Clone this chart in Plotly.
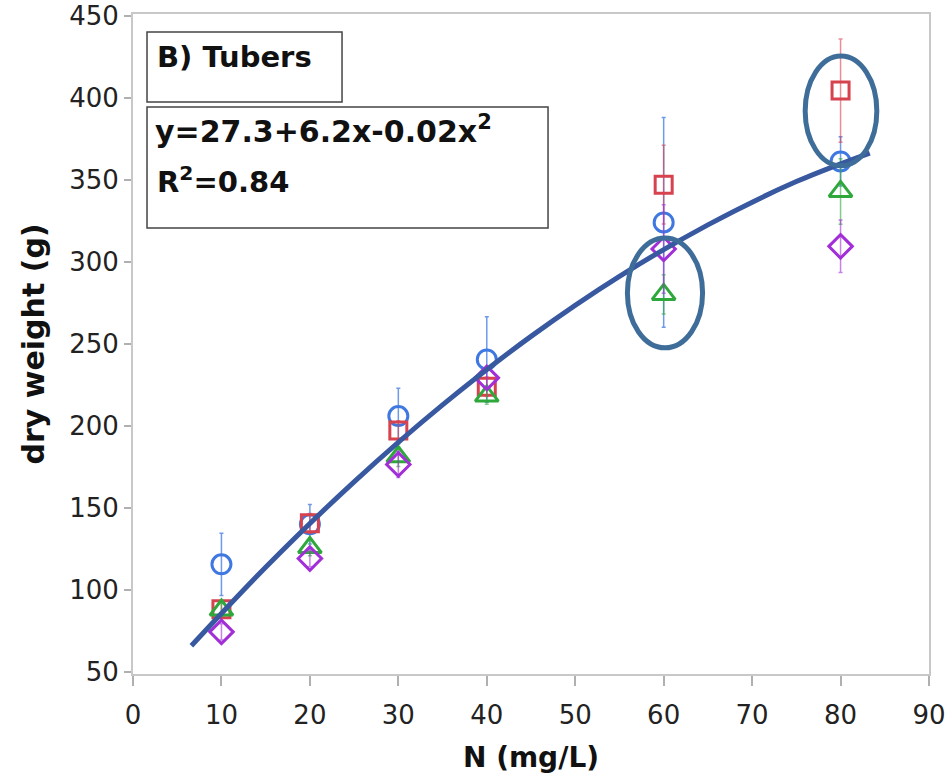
import plotly.graph_objects as go

# ---- data ----
n_levels = [10, 20, 30, 40, 60, 80]

blue_circle = [115.4, 139.8, 205.8, 240.3, 323.9, 361.1]
blue_err = [19, 12, 17, 26, 64, 15]

red_square = [88, 140.4, 197, 223.7, 346.9, 404.3]
red_err = [5, 6, 6, 6, 24, 31.5]

green_triangle = [87.5, 125.6, 181, 218, 280, 342.8]
green_err = [4, 5, 6, 5, 12, 20]

purple_diamond = [74.2, 118.9, 176.3, 229.1, 307.7, 309.3]
purple_err = [5, 5, 8, 6, 27, 16]

# fitted curve
curve_x = [6.6, 15, 25, 35, 45, 55, 65, 75, 83.3]
curve_y = [65.7, 113.6, 165.7, 212.6, 254.4, 291.0, 322.4, 348.8, 366.2]

x_ticks = [0, 10, 20, 30, 40, 50, 60, 70, 80, 90]
y_ticks = [50, 100, 150, 200, 250, 300, 350, 400, 450]

FONT = "DejaVu Sans"

series = [
    ("blue", blue_circle, blue_err, "circle-open", "#3f78e0", "rgba(63,120,224,0.75)", 19),
    ("red", red_square, red_err, "square-open", "#d7424f", "rgba(215,66,79,0.6)", 17),
    ("green", green_triangle, green_err, "triangle-up-open", "#2ea83a", "rgba(46,168,58,0.6)", 20),
    ("purple", purple_diamond, purple_err, "diamond-open", "#a22ed8", "rgba(162,46,216,0.6)", 18),
]

fig = go.Figure()
for name, ys, errs, sym, col, ecol, size in series:
    fig.add_trace(go.Scatter(
        x=n_levels, y=ys, mode="markers", name=name,
        marker=dict(symbol=sym, size=size, color=col, line=dict(width=3, color=col)),
        error_y=dict(type="data", array=errs, visible=True, color=ecol, thickness=1.5, width=2),
        showlegend=False,
    ))

fig.add_trace(go.Scatter(
    x=curve_x, y=curve_y, mode="lines", line=dict(color="#3858a0", width=5, shape="spline"),
    showlegend=False,
))

ell_col = "#3f6d99"
fig.add_shape(type="circle", xref="x", yref="y", x0=55.9, x1=64.4, y0=247.4, y1=314.4,
              line=dict(color=ell_col, width=5))
fig.add_shape(type="circle", xref="x", yref="y", x0=76.0, x1=84.1, y0=358.4, y1=425.4,
              line=dict(color=ell_col, width=5))

# text boxes
fig.add_shape(type="rect", xref="paper", yref="paper", x0=0.0176, x1=0.2626, y0=0.8667, y1=0.9727,
              line=dict(color="#444444", width=1.5), fillcolor="white", layer="above")
fig.add_shape(type="rect", xref="paper", yref="paper", x0=0.0176, x1=0.5214, y0=0.6758, y1=0.8591,
              line=dict(color="#444444", width=1.5), fillcolor="white", layer="above")

fig.add_annotation(xref="paper", yref="paper", x=0.0276, y=0.9348, xanchor="left", yanchor="middle",
                   text="<b>B) Tubers</b>", showarrow=False, font=dict(family=FONT, size=29, color="#111111"))
fig.add_annotation(xref="paper", yref="paper", x=0.0251, y=0.8250, xanchor="left", yanchor="middle",
                   text="<b>y=27.3+6.2x-0.02x<sup>2</sup></b>", showarrow=False,
                   font=dict(family=FONT, size=30, color="#111111"))
fig.add_annotation(xref="paper", yref="paper", x=0.0276, y=0.7490, xanchor="left", yanchor="middle",
                   text="<b>R<sup>2</sup>=0.84</b>", showarrow=False,
                   font=dict(family=FONT, size=29, color="#111111"))

axis_common = dict(
    showgrid=False, zeroline=False, showline=True, linecolor="#c8c8c8", linewidth=2, mirror=True,
    ticks="outside", tickcolor="#b0b0b0", tickwidth=1.5, automargin=False,
    ticklabeloverflow="allow",
    tickfont=dict(family=FONT, size=26, color="#222222"),
)

fig.update_layout(
    width=948, height=778,
    margin=dict(l=133, r=19, t=14, b=104),
    paper_bgcolor="white", plot_bgcolor="white",
    xaxis=dict(range=[0, 90], tickvals=x_ticks, ticktext=[str(v) for v in x_ticks], ticklen=10,
               ticklabelstandoff=7,
               title=dict(text="<b>N (mg/L)</b>", font=dict(family=FONT, size=28, color="#111111"), standoff=18),
               **axis_common),
    yaxis=dict(range=[48.5, 451], tickvals=y_ticks, ticktext=[str(v) for v in y_ticks], ticklen=7,
               title=dict(text="<b>dry weight (g)</b>", font=dict(family=FONT, size=30, color="#111111"), standoff=16),
               **axis_common),
)

fig.write_html("out.html", config={"displayModeBar": False},
               post_script="document.body.style.margin='0';")
